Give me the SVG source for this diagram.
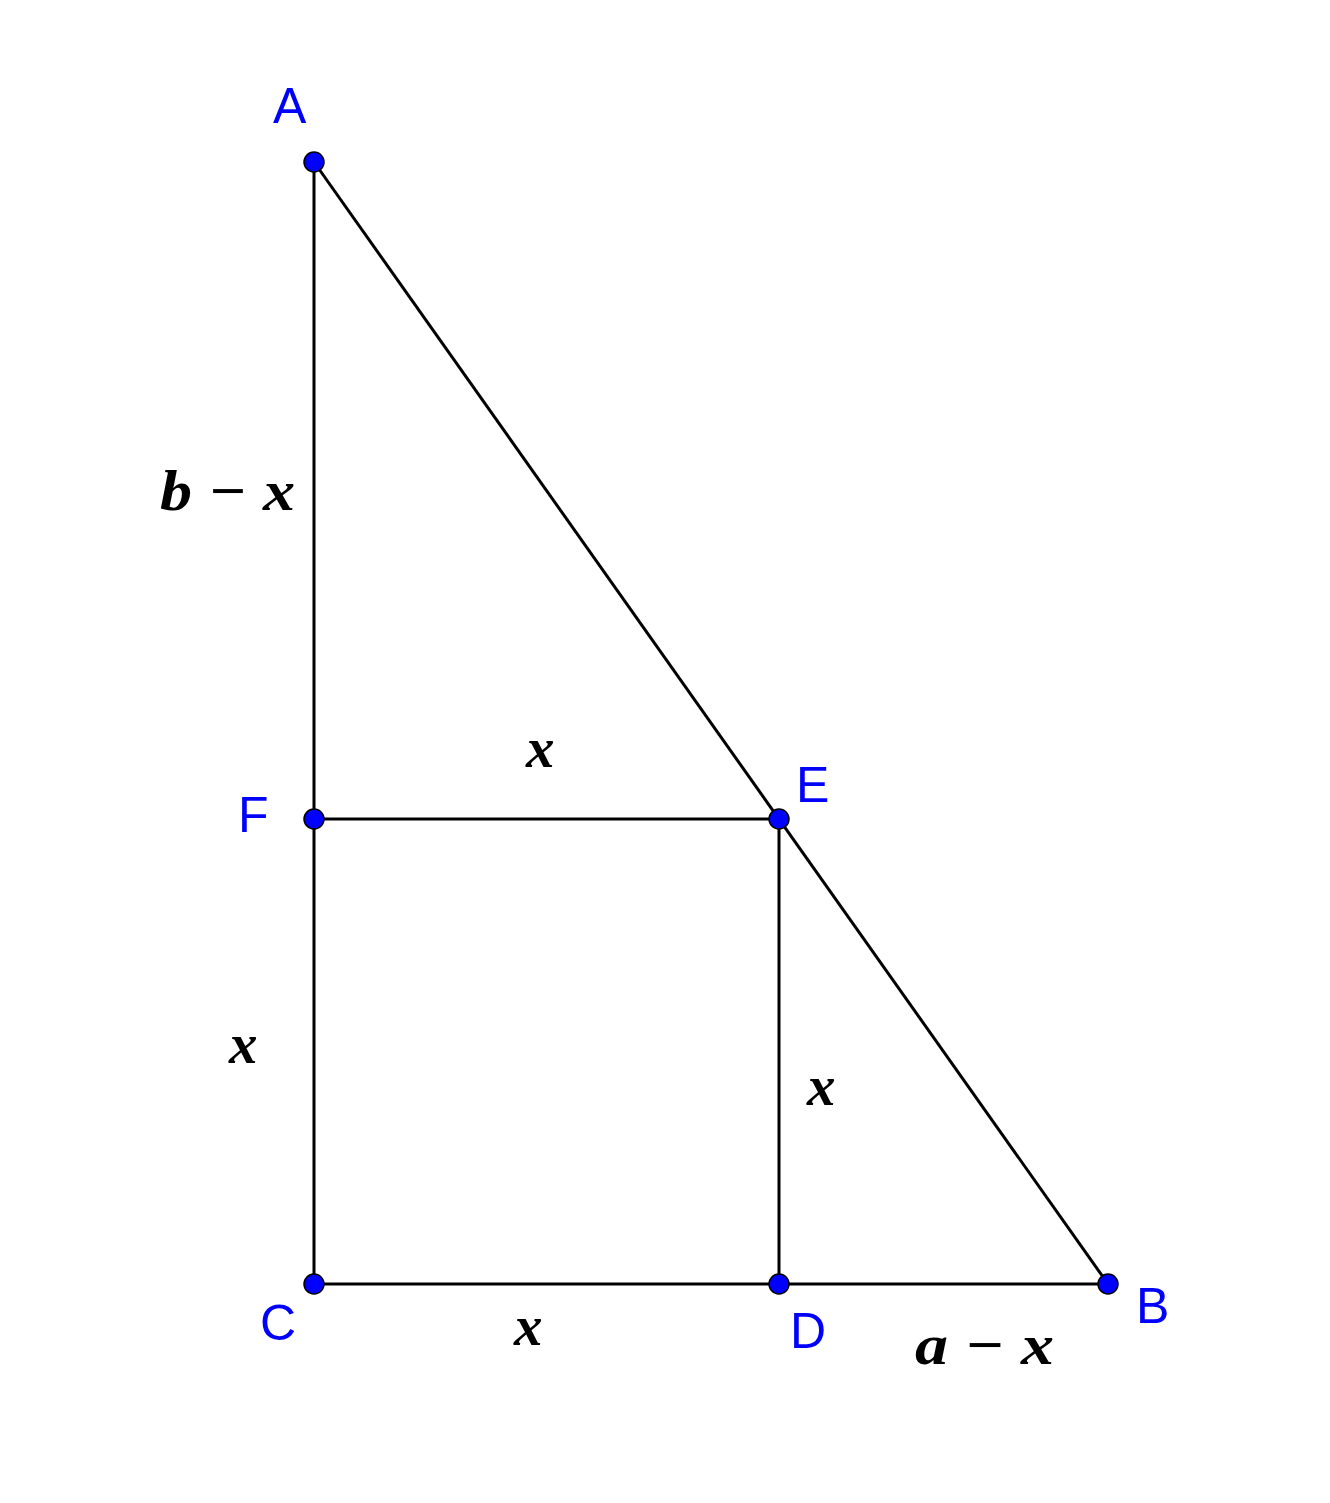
<svg xmlns="http://www.w3.org/2000/svg" width="1330" height="1503" viewBox="0 0 1330 1503">
<style>
.seg{stroke:#000;stroke-width:3;fill:none}
.pt{fill:#0000ff;stroke:#000;stroke-width:1.5}
.lbl{font-family:"Liberation Sans",Arial,sans-serif;font-size:50px;fill:#0000ff}
.math{font-family:"Liberation Serif","Times New Roman",serif;font-style:italic;font-weight:bold;font-size:57px;fill:#000}
</style>
<rect width="1330" height="1503" fill="#fff"/>
<g id="connectors">
<line class="seg" x1="314" y1="162" x2="314" y2="1284"/>
<line class="seg" x1="314" y1="1284" x2="1108" y2="1284"/>
<line class="seg" x1="314" y1="162" x2="1108" y2="1284"/>
<line class="seg" x1="314" y1="819" x2="779" y2="819"/>
<line class="seg" x1="779" y1="819" x2="779" y2="1284"/>
</g>
<g id="A"><circle class="pt" cx="314" cy="162" r="10"/><text class="lbl" x="273" y="123">A</text></g>
<g id="B"><circle class="pt" cx="1108" cy="1284" r="10"/><text class="lbl" x="1136" y="1323">B</text></g>
<g id="C"><circle class="pt" cx="314" cy="1284" r="10"/><text class="lbl" x="260" y="1340">C</text></g>
<g id="D"><circle class="pt" cx="779" cy="1284" r="10"/><text class="lbl" x="790" y="1348">D</text></g>
<g id="E"><circle class="pt" cx="779" cy="819" r="10"/><text class="lbl" x="796" y="802">E</text></g>
<g id="F"><circle class="pt" cx="314" cy="819" r="10"/><text class="lbl" x="238" y="832">F</text></g>
<g id="labels">
<text class="math" x="160" y="510" textLength="135" lengthAdjust="spacingAndGlyphs">b − x</text>
<text class="math" x="526" y="767">x</text>
<text class="math" x="229" y="1063">x</text>
<text class="math" x="807" y="1105">x</text>
<text class="math" x="514" y="1345">x</text>
<text class="math" x="915" y="1364" textLength="139" lengthAdjust="spacingAndGlyphs">a − x</text>
</g>
</svg>
